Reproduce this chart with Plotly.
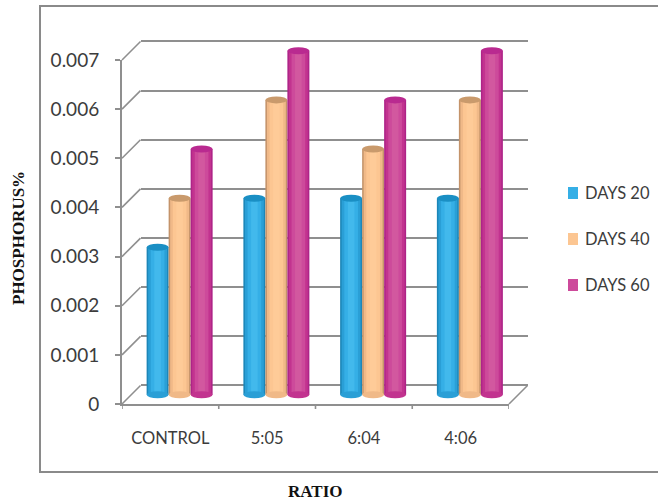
import plotly.graph_objects as go

categories = ["CONTROL", "5:05", "6:04", "4:06"]
series_names = ["DAYS 20", "DAYS 40", "DAYS 60"]
days20 = [0.003, 0.004, 0.004, 0.004]
days40 = [0.004, 0.006, 0.005, 0.006]
days60 = [0.005, 0.007, 0.006, 0.007]
tick_values = [0, 0.001, 0.002, 0.003, 0.004, 0.005, 0.006, 0.007]
tick_labels = ["0", "0.001", "0.002", "0.003", "0.004", "0.005", "0.006", "0.007"]

W, H = 658, 503
YMAX = 0.007
PAD = 0.0003
DEPTH = 18.5
X0, X1 = 122, 509          # front plane, px
Y0, Y7 = 404, 60
GRID = "#8f8f8f"
TEXT = "#3c3c3c"
SANS = "Lato, sans-serif"

def px(x): return x / W
def py(y): return 1 - y / H

series = [
    (days20, -1, ["#1c86b8", "#2a9fd6", "#35afe6", "#42b9ec"]),
    (days40, 0, ["#c4936a", "#f0b988", "#fcc692", "#fecb98"]),
    (days60, 1, ["#ae2488", "#c2338f", "#cd4a9b", "#d2589f"]),
]
CAP_TOP = ["#1a8fc4", "#c99a6c", "#b92a90"]
BAR_W = 22 / 96.75
LAYER_WIDTHS = [1.0, 0.86, 0.62, 0.30]

fig = go.Figure()
shapes = []
annotations = []

# Invisible anchors so the back wall and front plane axes get drawn
fig.add_trace(go.Scatter(x=[0], y=[0], mode="markers", marker=dict(opacity=0), xaxis="x", yaxis="y",
                         showlegend=False, hoverinfo="skip"))
fig.add_trace(go.Scatter(x=[0], y=[0], mode="markers", marker=dict(opacity=0), xaxis="x2", yaxis="y2",
                         showlegend=False, hoverinfo="skip"))

# Bars live on the middle plane of the fake depth (axes x3/y3, drawn last)
for i, (vals, off, cols) in enumerate(series):
    xs = [k + off * BAR_W for k in range(len(categories))]
    for j, (lw, col) in enumerate(zip(LAYER_WIDTHS, cols)):
        fig.add_trace(go.Bar(x=xs, y=vals, width=BAR_W * lw, marker=dict(color=col, line=dict(width=0)),
                             name=series_names[i], showlegend=False, xaxis="x3", yaxis="y3"))
    for x, v in zip(xs, vals):
        shapes.append(dict(type="circle", xref="x3", yref="y3", xsizemode="pixel", ysizemode="pixel",
                           xanchor=x, yanchor=0, x0=-11, x1=11, y0=-3.5, y1=3.5,
                           fillcolor=cols[1], line=dict(width=0), layer="above"))
        shapes.append(dict(type="circle", xref="x3", yref="y3", xsizemode="pixel", ysizemode="pixel",
                           xanchor=x, yanchor=v, x0=-11, x1=11, y0=-3.5, y1=3.5,
                           fillcolor=CAP_TOP[i], line=dict(width=0), layer="above"))
    # legend entry
    ly = 193 + 46 * i
    shapes.append(dict(type="rect", xref="paper", yref="paper", x0=px(568), x1=px(578),
                       y0=py(ly - 6), y1=py(ly + 6), fillcolor=cols[2], line=dict(width=0)))
    annotations.append(dict(text=series_names[i], xref="paper", yref="paper", x=px(583), y=py(ly),
                            xanchor="left", yanchor="middle", showarrow=False,
                            font=dict(family=SANS, size=16.5, color=TEXT)))

# Wall connectors and the floor edge
for v in tick_values:
    yf = Y0 + (Y7 - Y0) * v / YMAX
    shapes.append(dict(type="line", xref="paper", yref="paper",
                       x0=px(X0), y0=py(yf), x1=px(X0 + DEPTH), y1=py(yf - DEPTH),
                       line=dict(color=GRID, width=1.6), layer="below"))
shapes.append(dict(type="line", xref="paper", yref="paper",
                   x0=px(X1), y0=py(Y0), x1=px(X1 + DEPTH), y1=py(Y0 - DEPTH),
                   line=dict(color=GRID, width=1.6), layer="below"))
# Outer frame (open at the right: it runs off the image)
shapes.append(dict(type="rect", xref="paper", yref="paper",
                   x0=px(40), y0=py(6), x1=px(670), y1=py(472),
                   line=dict(color="#8a8a8a", width=2), fillcolor="rgba(0,0,0,0)", layer="below"))
# Category boundary ticks on the front floor edge
for b in [-0.5, 0.5, 1.5, 2.5, 3.5]:
    shapes.append(dict(type="line", xref="x2", yref="paper", x0=b, x1=b, y0=py(Y0), y1=py(Y0 + 5),
                       line=dict(color=GRID, width=1.6)))

annotations += [
    dict(text="<b>PHOSPHORUS%</b>", xref="paper", yref="paper", x=px(18), y=py(238),
         xanchor="center", yanchor="middle", textangle=-90, showarrow=False,
         font=dict(family="Liberation Serif", size=17, color="#111")),
    dict(text="<b>RATIO</b>", xref="paper", yref="paper", x=px(315), y=py(491),
         xanchor="center", yanchor="middle", showarrow=False,
         font=dict(family="Liberation Serif", size=17, color="#111")),
]

cat_range = [-0.5, 3.5]
pad_px = (Y0 - Y7) * PAD / YMAX
fig.update_layout(
    width=W, height=H, margin=dict(l=0, r=0, t=0, b=0, autoexpand=False),
    paper_bgcolor="white", plot_bgcolor="rgba(0,0,0,0)",
    barmode="overlay", shapes=shapes, annotations=annotations, showlegend=False,
    # back wall: grid, padded so the first and last lines are drawn
    xaxis=dict(domain=[px(X0 + DEPTH), px(X1 + DEPTH)], range=cat_range, anchor="y", visible=False),
    yaxis=dict(domain=[py(Y0 - DEPTH + pad_px), py(Y7 - DEPTH - pad_px)], range=[-PAD, YMAX + PAD], anchor="x",
               tickmode="array", tickvals=tick_values, showticklabels=False, ticks="",
               showgrid=True, gridcolor=GRID, gridwidth=2, zeroline=False, showline=False),
    # front plane: tick labels and axis lines
    xaxis2=dict(domain=[px(X0), px(X1)], range=cat_range, anchor="y2",
                tickmode="array", tickvals=[0, 1, 2, 3], ticktext=categories,
                showgrid=False, zeroline=False, showline=True, linecolor=GRID, linewidth=2,
                ticks="", ticklabelstandoff=18,
                tickfont=dict(family=SANS, size=16.5, color=TEXT)),
    yaxis2=dict(domain=[py(Y0), py(Y7)], range=[0, YMAX], anchor="x2",
                tickmode="array", tickvals=tick_values, ticktext=tick_labels,
                showgrid=False, zeroline=False, showline=True, linecolor=GRID, linewidth=2,
                ticks="outside", ticklen=5, tickcolor=GRID, tickwidth=2,
                ticklabelstandoff=12,
                tickfont=dict(family=SANS, size=19, color=TEXT)),
    # bars: middle plane, padded so the caps are not clipped
    xaxis3=dict(domain=[px(X0 + DEPTH / 2), px(X1 + DEPTH / 2)], range=cat_range, anchor="y3", visible=False),
    yaxis3=dict(domain=[py(Y0 - DEPTH / 2 + pad_px), py(Y7 - DEPTH / 2 - pad_px)],
                range=[-PAD, YMAX + PAD], anchor="x3", visible=False),
)

fig.write_html("out.html", config={"displayModeBar": False},
               post_script="document.body.style.margin='0';document.documentElement.style.overflow='hidden';")
